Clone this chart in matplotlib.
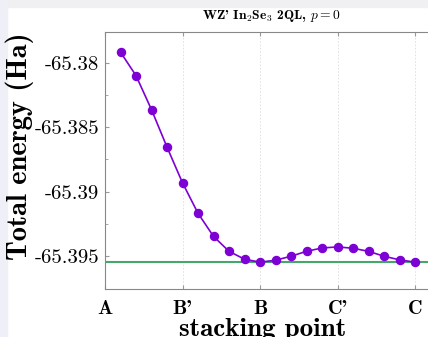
import numpy as np
import matplotlib
matplotlib.use("Agg")
import matplotlib.pyplot as plt
from matplotlib.patches import Rectangle

plt.rcParams['mathtext.fontset'] = 'cm'
plt.rcParams['font.family'] = 'cmr10'
plt.rcParams['axes.unicode_minus'] = False

# stacking path coordinate and total energy (Ha)
stack_x = [0.2, 0.4, 0.6, 0.8, 1.0, 1.2, 1.4, 1.6, 1.8, 2.0,
           2.2, 2.4, 2.6, 2.8, 3.0, 3.2, 3.4, 3.6, 3.8, 4.0]
energy = [-65.37918, -65.38100, -65.38364, -65.38654, -65.38931,
          -65.39167, -65.39346, -65.39462, -65.39523, -65.39546,
          -65.39531, -65.39500, -65.39462, -65.39436, -65.39428,
          -65.39438, -65.39462, -65.39500, -65.39528, -65.39546]
xtick_pos = [0, 1, 2, 3, 4]
xtick_labels = ["A", "B'", "B", "C'", "C"]
ytick_pos = [-65.38, -65.385, -65.39, -65.395]
ytick_labels = ["-65.38", "-65.385", "-65.39", "-65.395"]

fig = plt.figure(figsize=(4.28, 3.37), dpi=100)
# grey border strips of the screenshot
fig.patches.append(Rectangle((0, 1 - 7/337), 1, 7/337, transform=fig.transFigure,
                             color='#f0f0f3', zorder=-10))
fig.patches.append(Rectangle((0, 0), 7/428, 1, transform=fig.transFigure,
                             color='#efeff8', zorder=-10))

xmax = 4.3
ax = fig.add_axes([105/428, 1 - 289/337, xmax*77.5/428, (289 - 32)/337])

ax.axhline(min(energy), color='#45a86a', lw=1.5, zorder=2)
ax.plot(stack_x, energy, '-o', color='#7d00d4', lw=1.2, ms=5.8, zorder=3)

ax.set_xlim(0, xmax)
ax.set_ylim(-65.39754, -65.37762)
ax.set_xticks(xtick_pos)
ax.set_xticklabels(xtick_labels, fontfamily='cmb10', fontsize=14.5)
ax.set_yticks(ytick_pos)
ax.set_yticklabels(ytick_labels, fontsize=15)
ax.set_yticks([-65.3825, -65.3875, -65.3925], minor=True)
ax.tick_params(direction='in', top=True, right=True, length=3, color='#999999')
ax.tick_params(axis='x', pad=8)
ax.tick_params(axis='y', pad=4)
ax.tick_params(which='minor', direction='in', left=True, right=True, length=2,
               color='#999999')
ax.grid(axis='x', color='#dddddd', ls=(0, (2, 2)), lw=0.6)
for s in ax.spines.values():
    s.set_color('#888888')

ax.set_xlabel("stacking point", fontfamily='cmb10', fontsize=19.5)
ax.xaxis.set_label_coords(0.474, -0.113)
ax.set_ylabel("Total energy (Ha)", fontfamily='cmb10', fontsize=20.5)
ax.yaxis.set_label_coords(-0.214, 0.556)
ax.set_title(r"WZ' In$_2$Se$_3$ 2QL, $p = 0$", fontfamily='cmb10', fontsize=9.8,
             pad=9)

fig.savefig("out.png", dpi=100)
